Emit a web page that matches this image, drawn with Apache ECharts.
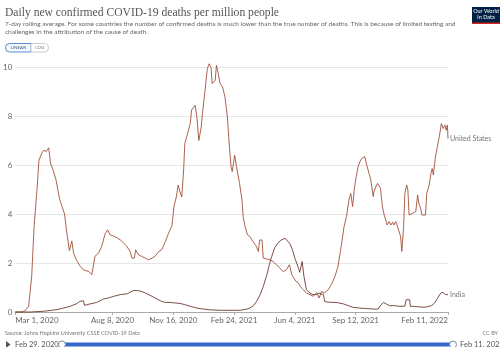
<!DOCTYPE html>
<html>
<head>
<meta charset="utf-8">
<script src="https://cdn.jsdelivr.net/npm/echarts@6/dist/echarts.min.js"></script>
<style>html,body{margin:0;padding:0;background:#fff;}#chart{width:500px;height:347px;}</style>
</head>
<body>
<div id="chart"></div>
<script>
// x values are days since Mar 1, 2020
const endOffset = 712; // Feb 11, 2022

const usDays = [0,12,16,22,27,31,36,39,44,47,51,55,58,62,67,73,77,81,85,89,93,96,101,107,112,121,126,131,137,142,148,152,156,164,173,183,189,192,196,198,203,208,214,219,225,230,236,241,247,252,258,261,265,268,271,274,277,279,282,288,290,296,299,302,306,308,311,314,316,319,322,324,329,331,334,337,341,345,349,352,355,357,359,361,364,369,373,375,378,382,386,391,394,397,400,402,406,408,414,419,424,430,435,441,446,451,455,458,462,466,469,474,479,485,490,496,500,504,508,515,520,526,531,534,537,541,545,549,552,555,558,561,564,567,570,572,575,579,582,585,587,589,590,593,596,599,601,604,607,610,612,615,618,621,623,626,629,632,634,636,639,641,644,646,648,651,654,659,662,664,667,669,672,675,677,681,684,686,688,691,694,697,699,701,704,707,709,711,712];
const usValues = [0,0,0.05,0.23,1.45,3.5,5.1,6.2,6.5,6.6,6.55,6.7,6.07,5.8,5.4,4.6,4.3,4.0,3.2,2.5,2.9,2.4,2.1,1.86,1.72,1.65,1.52,2.27,2.4,2.67,3.2,3.35,3.15,3.08,2.94,2.7,2.47,2.2,2.2,2.54,2.33,2.27,2.2,2.13,2.2,2.27,2.47,2.54,2.88,3.2,3.55,4.3,4.7,5.18,4.9,4.7,5.8,6.88,7.15,7.7,8.24,8.44,7.9,7.0,7.56,8.1,8.17,9.46,9.93,10.13,10.0,9.32,9.46,10.07,9.73,9.32,9.19,8.78,7.96,6.88,5.93,5.73,6.07,6.4,5.93,5.25,4.57,3.9,3.49,3.15,3.08,2.88,2.94,2.67,2.47,2.94,2.94,2.2,2.16,2.13,2.06,1.93,1.79,1.65,1.72,1.93,1.52,1.45,1.25,1.18,1.04,0.91,0.77,0.71,0.64,0.8,0.57,0.84,0.77,0.91,1.11,1.45,1.86,2.33,2.8,3.49,3.9,4.57,4.84,4.3,5.05,5.52,5.93,6.13,6.27,6.2,6.34,5.93,5.66,5.39,5.05,4.71,4.9,5.1,5.25,5.18,5.05,4.3,3.96,3.9,3.55,3.69,3.55,3.67,3.55,3.69,3.49,3.55,3.08,2.47,3.49,4.84,5.18,4.98,3.96,3.96,4.03,4.1,4.78,4.44,4.23,3.96,4.0,3.96,4.84,5.18,5.66,5.86,5.59,6.27,6.68,7.08,7.35,7.69,7.49,7.63,7.42,7.63,7.08];

const indiaDays = [0,25,47,69,79,90,101,106,108,112,114,123,134,145,153,162,173,184,194,200,208,216,225,233,241,247,255,263,271,279,288,299,309,320,337,362,370,381,386,392,397,403,408,414,418,422,427,433,438,444,447,452,456,460,466,468,472,475,479,485,490,496,500,507,509,515,528,540,550,556,567,578,589,597,602,606,611,616,624,633,641,643,649,650,657,668,676,685,690,695,700,704,708,712];
const indiaValues = [0,0,0.03,0.1,0.16,0.23,0.34,0.43,0.47,0.46,0.27,0.33,0.39,0.53,0.57,0.64,0.71,0.74,0.87,0.88,0.84,0.75,0.64,0.53,0.43,0.39,0.39,0.37,0.35,0.3,0.23,0.16,0.12,0.09,0.07,0.07,0.07,0.12,0.16,0.26,0.43,0.71,1.04,1.52,1.93,2.27,2.63,2.84,2.94,3.01,2.97,2.78,2.54,2.2,1.79,1.62,2.06,1.45,0.91,0.77,0.71,0.71,0.77,0.71,0.43,0.4,0.39,0.33,0.24,0.19,0.16,0.14,0.12,0.12,0.3,0.39,0.32,0.26,0.26,0.23,0.24,0.5,0.5,0.23,0.23,0.2,0.2,0.26,0.37,0.57,0.77,0.8,0.71,0.71];

const xTickOffsets = [0,160,260,360,460,560,712];
const xTickLabels = ['Mar 1, 2020','Aug 8, 2020','Nov 16, 2020','Feb 24, 2021','Jun 4, 2021','Sep 12, 2021','Feb 11, 2022'];
const yTicks = [0,2,4,6,8,10];

const usData = usDays.map((d,i)=>[d, usValues[i]]);
const indiaData = indiaDays.map((d,i)=>[d, indiaValues[i]]);

const chart = echarts.init(document.getElementById('chart'), null, {renderer:'canvas'});
const txt = '#666';
chart.setOption({
  animation:false,
  grid:{left:15, right:52, top:67, bottom:35},
  xAxis:{
    type:'value', min:0, max:endOffset,
    axisLine:{show:true, lineStyle:{color:'#aaa', width:1}},
    axisTick:{show:true, length:3, lineStyle:{color:'#aaa'}, customValues:xTickOffsets},
    axisLabel:{
      customValues:xTickOffsets, fontFamily:'Lato', fontSize:8, color:txt, margin:4,
      alignMinLabel:'left', alignMaxLabel:'right',
      formatter:function(v){ const i = xTickOffsets.indexOf(v); return i>=0 ? xTickLabels[i] : ''; }
    },
    splitLine:{show:false}
  },
  yAxis:{
    type:'value', min:yTicks[0], max:yTicks[yTicks.length-1], interval:2,
    axisLine:{show:false}, axisTick:{show:false},
    axisLabel:{fontFamily:'Lato', fontSize:8, color:txt, margin:3},
    splitLine:{lineStyle:{color:'#e6e6e6', width:1}}
  },
  series:[
    {name:'United States', type:'line', data:usData, showSymbol:false, clip:false,
     lineStyle:{color:'#a2503a', width:0.9}, itemStyle:{color:'#a2503a'},
     endLabel:{show:true, formatter:'{a}', fontFamily:'Lato', fontSize:7, color:'#777', distance:2}},
    {name:'India', type:'line', data:indiaData, showSymbol:false, clip:false,
     lineStyle:{color:'#6e3b30', width:0.9}, itemStyle:{color:'#6e3b30'},
     endLabel:{show:true, formatter:'{a}', fontFamily:'Lato', fontSize:7, color:'#777', distance:2}}
  ],
  graphic:[
    {type:'text', left:5, top:7, style:{text:'Daily new confirmed COVID-19 deaths per million people', fontFamily:'Liberation Serif', fontSize:11.6, fill:'#555'}},
    {type:'text', left:5, top:20.5, style:{text:'7-day rolling average. For some countries the number of confirmed deaths is much lower than the true number of deaths. This is because of limited testing and\nchallenges in the attribution of the cause of death.', fontFamily:'Lato', fontSize:6.5, lineHeight:7.5, fill:'#666'}},
    {type:'rect', shape:{x:5.5, y:43.5, width:25.5, height:8.5, r:[4,0,0,4]}, style:{fill:'#f4f8fd', stroke:'#5b8fd0', lineWidth:1}},
    {type:'rect', shape:{x:31, y:43.5, width:17.5, height:8.5, r:[0,4,4,0]}, style:{fill:'#fff', stroke:'#ccc', lineWidth:1}},
    {type:'text', x:18.25, y:47.9, style:{text:'LINEAR', fontFamily:'Lato', fontSize:4.5, fill:'#3a5d8f', align:'center', verticalAlign:'middle'}},
    {type:'text', x:39.75, y:47.9, style:{text:'LOG', fontFamily:'Lato', fontSize:4.5, fill:'#777', align:'center', verticalAlign:'middle'}},
    {type:'rect', shape:{x:472, y:7, width:28, height:17}, style:{fill:'#002147'}},
    {type:'rect', shape:{x:472, y:22.5, width:28, height:1.5}, style:{fill:'#ce261e'}},
    {type:'text', x:486, y:14.5, style:{text:'Our World\nin Data', fontFamily:'Lato', fontSize:5.5, lineHeight:6, fill:'#fff', align:'center', verticalAlign:'middle'}},
    {type:'text', x:5, y:333.5, style:{text:'Source: Johns Hopkins University CSSE COVID-19 Data', fontFamily:'Lato', fontSize:5.5, fill:'#777', verticalAlign:'middle'}},
    {type:'text', x:498, y:333.5, style:{text:'CC BY', fontFamily:'Lato', fontSize:5.5, fill:'#777', align:'right', verticalAlign:'middle'}},
    {type:'polygon', shape:{points:[[6,341],[6,348],[10.5,344.5]]}, style:{fill:'#555'}},
    {type:'text', x:15, y:345, style:{text:'Feb 29, 2020', fontFamily:'Lato', fontSize:7.5, fill:'#555', verticalAlign:'middle'}},
    {type:'rect', shape:{x:62, y:342.5, width:391, height:4, r:2}, style:{fill:'#3568cf'}},
    {type:'circle', shape:{cx:62, cy:344.5, r:3.5}, style:{fill:'#fff', stroke:'#7a8ba8', lineWidth:1}},
    {type:'circle', shape:{cx:453, cy:344.5, r:3.5}, style:{fill:'#fff', stroke:'#7a8ba8', lineWidth:1}},
    {type:'text', x:460, y:345, style:{text:'Feb 11, 2022', fontFamily:'Lato', fontSize:7.5, fill:'#555', verticalAlign:'middle'}}
  ]
});
</script>
</body>
</html>
